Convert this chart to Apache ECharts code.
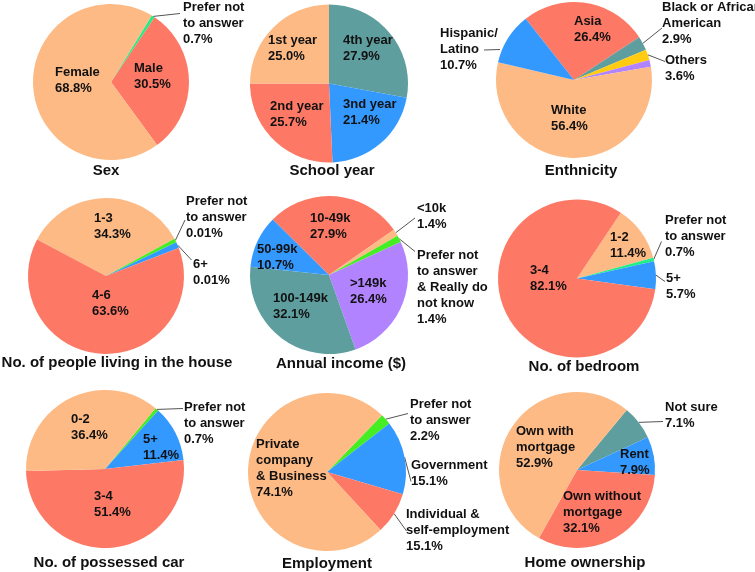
<!DOCTYPE html>
<html>
<head>
<meta charset="utf-8">
<script src="https://cdn.jsdelivr.net/npm/echarts@6/dist/echarts.min.js"></script>
<style>
  html, body { margin: 0; padding: 0; background: #fff; }
  #main { width: 755px; height: 572px; }
</style>
</head>
<body>
<div id="main"></div>
<script>
// slice values (drawn), names and the printed percentages
const sexNames = ['Prefer not\nto answer', 'Male', 'Female'];
const sexValues = [0.7, 30.5, 68.8];
const sexText = ['0.7%', '30.5%', '68.8%'];

const yearNames = ['4th year', '3nd year', '2nd year', '1st year'];
const yearValues = [27.9, 21.4, 25.7, 25.0];
const yearText = ['27.9%', '21.4%', '25.7%', '25.0%'];

const ethNames = ['Asia', 'Black or African\nAmerican', 'Others', '', 'White', 'Hispanic/\nLatino'];
const ethValues = [26.4, 2.9, 2.2, 1.4, 56.4, 10.7];
const ethText = ['26.4%', '2.9%', '3.6%', '', '56.4%', '10.7%'];

const peopleNames = ['1-3', 'Prefer not\nto answer', '6+', '4-6'];
const peopleValues = [34.3, 0.8, 1.3, 63.6];
const peopleText = ['34.3%', '0.01%', '0.01%', '63.6%'];

const incomeNames = ['10-49k', '<10k', 'Prefer not\nto answer\n& Really do\nnot know', '>149k', '100-149k', '50-99k'];
const incomeValues = [27.9, 1.4, 1.4, 26.4, 32.1, 10.7];
const incomeText = ['27.9%', '1.4%', '1.4%', '26.4%', '32.1%', '10.7%'];

const bedNames = ['1-2', 'Prefer not\nto answer', '5+', '3-4'];
const bedValues = [11.4, 0.7, 5.7, 82.1];
const bedText = ['11.4%', '0.7%', '5.7%', '82.1%'];

const carNames = ['Prefer not\nto answer', '5+', '3-4', '0-2'];
const carValues = [0.7, 11.4, 51.4, 36.4];
const carText = ['0.7%', '11.4%', '51.4%', '36.4%'];

const jobNames = ['Prefer not\nto answer', 'Government', 'Individual &\nself-employment', 'Private\ncompany\n& Business'];
const jobValues = [2.2, 15.1, 8.6, 74.1];
const jobText = ['2.2%', '15.1%', '15.1%', '74.1%'];

const homeNames = ['Not sure', 'Rent', 'Own without\nmortgage', 'Own with\nmortgage'];
const homeValues = [7.1, 7.9, 32.1, 52.9];
const homeText = ['7.1%', '7.9%', '32.1%', '52.9%'];

const titles = ['Sex', 'School year', 'Enthnicity', 'No. of people living in the house',
  'Annual income ($)', 'No. of bedroom', 'No. of possessed car', 'Employment', 'Home ownership'];

const C = {
  peach: '#FDBA85', salmon: '#FD7966', teal: '#5F9E9F', blue: '#3399FF',
  purple: '#B283FF', mint: '#22EE88', lime: '#44EE22', yellow: '#FFCC11'
};

// layout: pie centre, radius, startAngle, title position
const pies = [
  { names: sexNames, values: sexValues, text: sexText, colors: ['mint', 'salmon', 'peach'],
    center: [111, 82], r: 78, start: 58.5, title: [106, 171],
    labels: [[183, -1, [180, 13.5]], [134, 60], [55, 64]] },
  { names: yearNames, values: yearValues, text: yearText, colors: ['teal', 'blue', 'salmon', 'peach'],
    center: [329, 83.5], r: 79, start: 90, title: [332, 171],
    labels: [[343, 32], [343, 96], [270, 98], [268, 32]] },
  { names: ethNames, values: ethValues, text: ethText, colors: ['salmon', 'teal', 'yellow', 'purple', 'peach', 'blue'],
    center: [574, 80], r: 78, start: 128.3, title: [581, 171],
    labels: [[574, 13], [662, -1, [662, 28]], [665, 52, [665, 61.5]], null, [551, 102], [440, 25, [484, 50], [500, 49.5]]] },
  { names: peopleNames, values: peopleValues, text: peopleText, colors: ['peach', 'lime', 'blue', 'salmon'],
    center: [106, 276], r: 78, start: 152.1, title: [117, 363],
    labels: [[94, 210], [186, 193, [185, 220]], [193, 256, [191.5, 260]], [92, 287]] },
  { names: incomeNames, values: incomeValues, text: incomeText, colors: ['salmon', 'peach', 'lime', 'purple', 'teal', 'blue'],
    center: [329, 275], r: 79, start: 135.4, title: [341, 364],
    labels: [[310, 210], [417, 200, [415, 218]], [417, 247, [415, 251.5]], [350, 275], [273, 290], [257, 241]] },
  { names: bedNames, values: bedValues, text: bedText, colors: ['peach', 'mint', 'blue', 'salmon'],
    center: [577, 278.5], r: 79, start: 56.3, title: [584, 367],
    labels: [[610, 229], [665, 212, [661.5, 241.5]], [666, 270, [665, 281.5]], [530, 262]] },
  { names: carNames, values: carValues, text: carText, colors: ['lime', 'blue', 'salmon', 'peach'],
    center: [105, 469], r: 79, start: 50.2, title: [109, 563],
    labels: [[184, 399, [183, 408.5]], [143, 431], [94, 488], [71, 411]] },
  { names: jobNames, values: jobValues, text: jobText, colors: ['lime', 'blue', 'salmon', 'peach'],
    center: [327, 472], r: 79, start: 45.9, title: [327, 564],
    labels: [[410, 396, [408, 413.5]], [411, 457, [411, 481.5]], [406, 506, [406.5, 531]], [256, 436]] },
  { names: homeNames, values: homeValues, text: homeText, colors: ['teal', 'blue', 'salmon', 'peach'],
    center: [577, 470], r: 78, start: 50.4, title: [585, 563],
    labels: [[665, 399, [663, 421.5]], [620, 446], [563, 488], [516, 423]] }
];

const FONT = '"Liberation Sans", Arial, Helvetica, sans-serif';

const series = pies.map(function (p) {
  return {
    type: 'pie',
    center: p.center,
    radius: [0, p.r],
    startAngle: p.start,
    clockwise: true,
    avoidLabelOverlap: false,
    silent: true,
    label: {
      color: '#111',
      fontFamily: FONT,
      fontSize: 13,
      fontWeight: 'bold',
      lineHeight: 16,
      formatter: function (d) { return d.name + '\n' + p.text[d.dataIndex]; }
    },
    labelLine: { show: true, length: 6, length2: 6, lineStyle: { color: '#555', width: 1 } },
    labelLayout: function (prm) {
      const pos = p.labels[prm.dataIndex];
      if (!pos) return {};
      const out = { x: pos[0], y: pos[1], align: 'left', verticalAlign: 'top' };
      if (pos[2]) {
        const p0 = pos[3] || (prm.labelLinePoints ? prm.labelLinePoints[0].slice() : pos[2]);
        out.labelLinePoints = [p0, pos[2], pos[2]];
      }
      return out;
    },
    data: p.values.map(function (v, i) {
      const lab = p.labels[i];
      return {
        name: p.names[i],
        value: v,
        itemStyle: { color: C[p.colors[i]] },
        label: { show: !!lab, position: lab && lab[2] ? 'outside' : 'inside' },
        labelLine: { show: !!(lab && lab[2]) }
      };
    })
  };
});

const graphic = pies.map(function (p, i) {
  return {
    type: 'text',
    x: p.title[0],
    y: p.title[1],
    style: {
      text: titles[i],
      fontFamily: FONT,
      fontSize: 15,
      fontWeight: 'bold',
      fill: '#111',
      textAlign: 'center',
      textVerticalAlign: 'middle'
    }
  };
});

const myChart = echarts.init(document.getElementById('main'));
myChart.setOption({
  animation: false,
  backgroundColor: '#fff',
  series: series,
  graphic: graphic
});
</script>
</body>
</html>
